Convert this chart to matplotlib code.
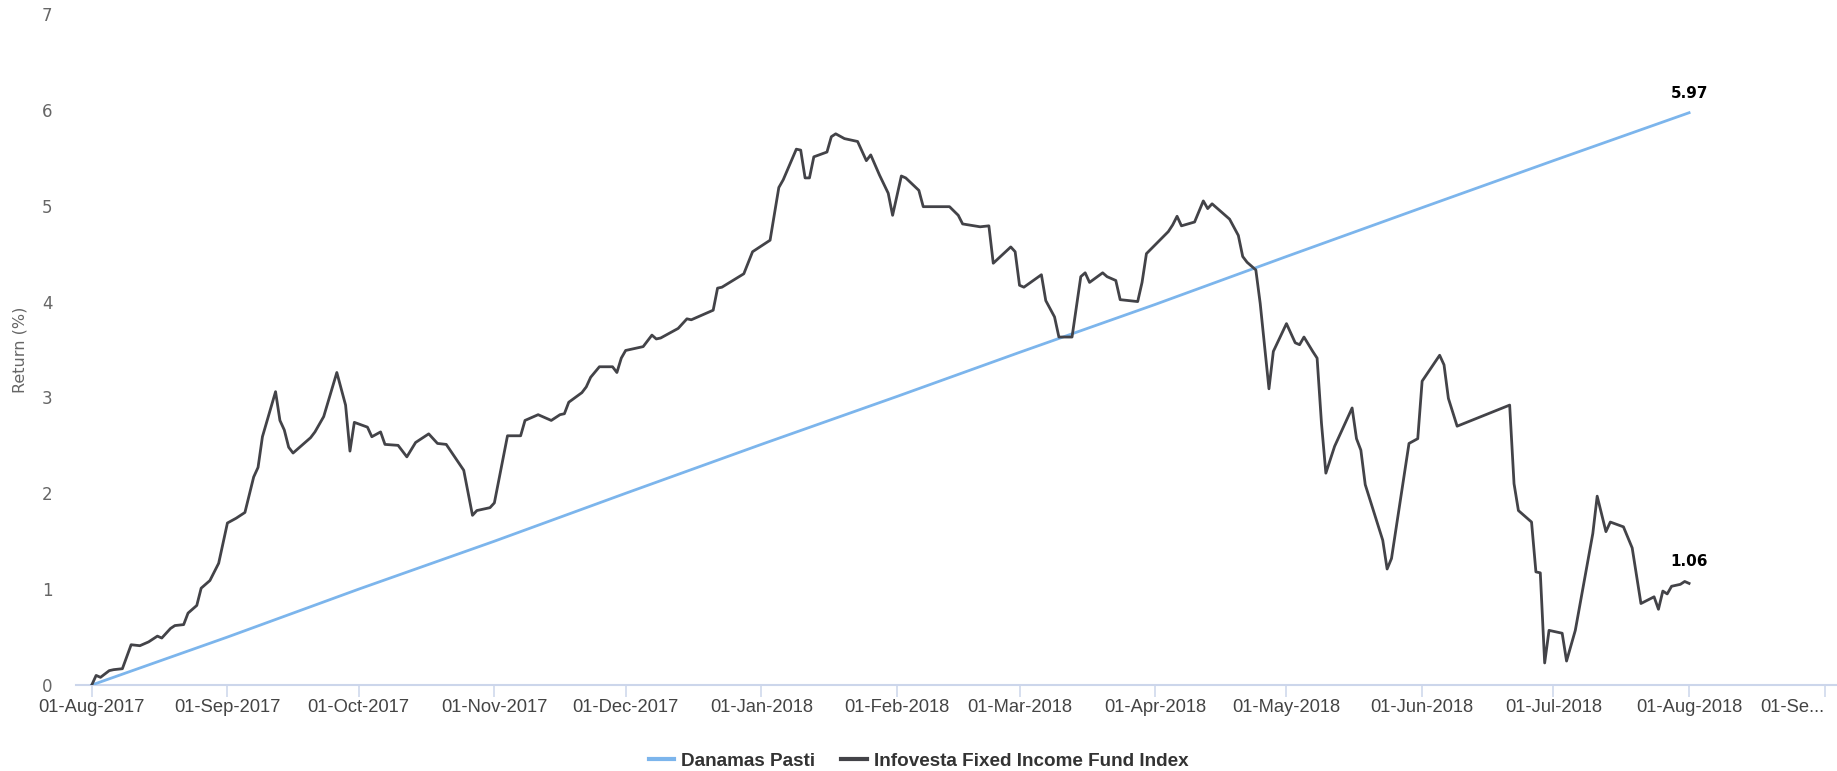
import pandas as pd
import matplotlib
matplotlib.use('Agg')
import matplotlib.pyplot as plt

# x values are days since 01-Aug-2017, y values are return in %
start = pd.Timestamp('2017-08-01')

# Danamas Pasti
fund_days = [0, 31, 61, 92, 122, 153, 184, 212, 243, 273, 304, 334, 365]
fund_ret = [0.00, 0.50, 1.00, 1.50, 2.00, 2.51, 3.01, 3.47, 3.97, 4.47, 4.98, 5.47, 5.97]

# Infovesta Fixed Income Fund Index
idx_days = [0, 1, 2, 4, 5, 7, 9, 11, 13, 15, 16, 18, 19, 21, 22, 24, 25, 27, 28, 29,
            31, 33, 35, 37, 38, 39, 42, 43, 44, 45, 46, 48, 50, 51, 53, 56, 58, 59, 60, 63,
            64, 66, 67, 70, 72, 74, 77, 79, 81, 85, 87, 88, 91, 92, 95, 98, 99, 102, 105, 107,
            108, 109, 112, 113, 114, 116, 119, 120, 121, 122, 126, 128, 129, 130, 134, 136, 137, 141, 142, 143,
            144, 149, 151, 155, 157, 158, 161, 162, 163, 164, 165, 168, 169, 170, 172, 175, 177, 178, 180, 182,
            183, 185, 186, 189, 190, 192, 196, 198, 199, 203, 205, 206, 210, 211, 212, 213, 217, 218, 220, 221,
            224, 226, 227, 228, 231, 232, 234, 235, 239, 240, 241, 246, 247, 248, 249, 252, 254, 255, 256, 258,
            260, 262, 263, 264, 266, 267, 269, 270, 273, 275, 276, 277, 279, 280, 281, 282, 284, 288, 289, 290,
            291, 295, 296, 297, 301, 303, 304, 308, 309, 310, 312, 324, 325, 326, 329, 330, 331, 332, 333, 336,
            337, 339, 343, 344, 346, 347, 350, 352, 354, 357, 358, 359, 360, 361, 363, 364, 365]
idx_ret = [0.00, 0.10, 0.08, 0.15, 0.16, 0.17, 0.42, 0.41, 0.45, 0.51, 0.49, 0.59, 0.62, 0.63, 0.75, 0.83, 1.01, 1.09, 1.18, 1.27,
           1.69, 1.74, 1.80, 2.17, 2.27, 2.59, 3.06, 2.76, 2.66, 2.48, 2.42, 2.50, 2.58, 2.64, 2.80, 3.26, 2.92, 2.44, 2.74, 2.69,
           2.59, 2.64, 2.51, 2.50, 2.38, 2.53, 2.62, 2.52, 2.51, 2.24, 1.77, 1.82, 1.85, 1.90, 2.60, 2.60, 2.76, 2.82, 2.76, 2.82,
           2.83, 2.95, 3.05, 3.11, 3.21, 3.32, 3.32, 3.26, 3.41, 3.49, 3.53, 3.65, 3.61, 3.62, 3.72, 3.82, 3.81, 3.89, 3.91, 4.14,
           4.15, 4.29, 4.52, 4.64, 5.19, 5.27, 5.59, 5.58, 5.29, 5.29, 5.51, 5.56, 5.72, 5.75, 5.70, 5.67, 5.47, 5.53, 5.32, 5.13,
           4.90, 5.31, 5.29, 5.16, 4.99, 4.99, 4.99, 4.90, 4.81, 4.78, 4.79, 4.40, 4.57, 4.52, 4.17, 4.15, 4.28, 4.01, 3.84, 3.63,
           3.63, 4.26, 4.30, 4.20, 4.30, 4.26, 4.22, 4.02, 4.00, 4.20, 4.50, 4.73, 4.80, 4.89, 4.79, 4.83, 5.05, 4.97, 5.02, 4.94,
           4.86, 4.69, 4.47, 4.41, 4.33, 3.98, 3.09, 3.48, 3.77, 3.57, 3.55, 3.63, 3.48, 3.41, 2.73, 2.21, 2.49, 2.89, 2.57, 2.45,
           2.09, 1.51, 1.21, 1.32, 2.52, 2.57, 3.17, 3.44, 3.34, 2.99, 2.70, 2.92, 2.10, 1.82, 1.70, 1.18, 1.17, 0.23, 0.57, 0.54,
           0.25, 0.57, 1.58, 1.97, 1.60, 1.70, 1.65, 1.43, 0.85, 0.92, 0.79, 0.98, 0.95, 1.03, 1.05, 1.08, 1.06]

tick_dates = pd.date_range('2017-08-01', '2018-09-01', freq='MS')
tick_labels = [d.strftime('%d-%b-%Y') for d in tick_dates]
tick_labels[-1] = '01-Se...'

series_names = ['Danamas Pasti', 'Infovesta Fixed Income Fund Index']
end_labels = ['5.97', '1.06']

label_font = ['Liberation Sans', 'DejaVu Sans']


def to_dates(days):
    return (start + pd.to_timedelta(days, unit='D')).to_pydatetime()


fig = plt.figure(figsize=(18.37, 7.71), dpi=100)
ax = fig.add_axes([76 / 1837, 86 / 771, 1761 / 1837, 671 / 771])

fd = to_dates(fund_days)
idd = to_dates(idx_days)
ax.plot(fd, fund_ret, color='#7cb5ec', lw=2.0, label=series_names[0], zorder=3)
ax.plot(idd, idx_ret, color='#434348', lw=2.0, label=series_names[1], zorder=4)

ax.annotate(end_labels[0], (fd[-1], fund_ret[-1]), xytext=(0, 14), textcoords='offset points',
            ha='center', va='center', fontsize=11, fontweight='bold', color='#000000')
ax.annotate(end_labels[1], (idd[-1], idx_ret[-1]), xytext=(0, 16), textcoords='offset points',
            ha='center', va='center', fontsize=11, fontweight='bold', color='#000000')

ax.set_xlim(start - pd.Timedelta(days=3.6), start + pd.Timedelta(days=398.8))
ax.set_ylim(0, 7)
ax.set_yticks(range(8))
ax.set_xticks(tick_dates.to_pydatetime())
ax.set_xticklabels(tick_labels, family=label_font, fontsize=13.2, color='#444444')
ax.get_xticklabels()[-1].set_horizontalalignment('right')
for lbl in ax.get_yticklabels():
    lbl.set_fontsize(12)
    lbl.set_color('#666666')

for s in ['top', 'right', 'left']:
    ax.spines[s].set_visible(False)
ax.spines['bottom'].set_color('#ccd6eb')
ax.spines['bottom'].set_linewidth(1.5)
ax.tick_params(axis='x', length=8.5, width=1.1, color='#ccd6eb', pad=1.5)
ax.tick_params(axis='y', length=0, pad=17)

fig.text(20 / 1837, 1 - 350 / 771, 'Return (%)', rotation=90, ha='center', va='center',
         fontsize=11.5, color='#666666')

leg = fig.legend(loc='center', bbox_to_anchor=(0.5, 10 / 771), ncol=2, frameon=False,
                 handlelength=1.35, handletextpad=0.35, columnspacing=1.4,
                 prop={'family': label_font, 'size': 13.6, 'weight': 'bold'})
for line in leg.get_lines():
    line.set_linewidth(3)
for t in leg.get_texts():
    t.set_color('#333333')

fig.savefig('out.png', dpi=100)
